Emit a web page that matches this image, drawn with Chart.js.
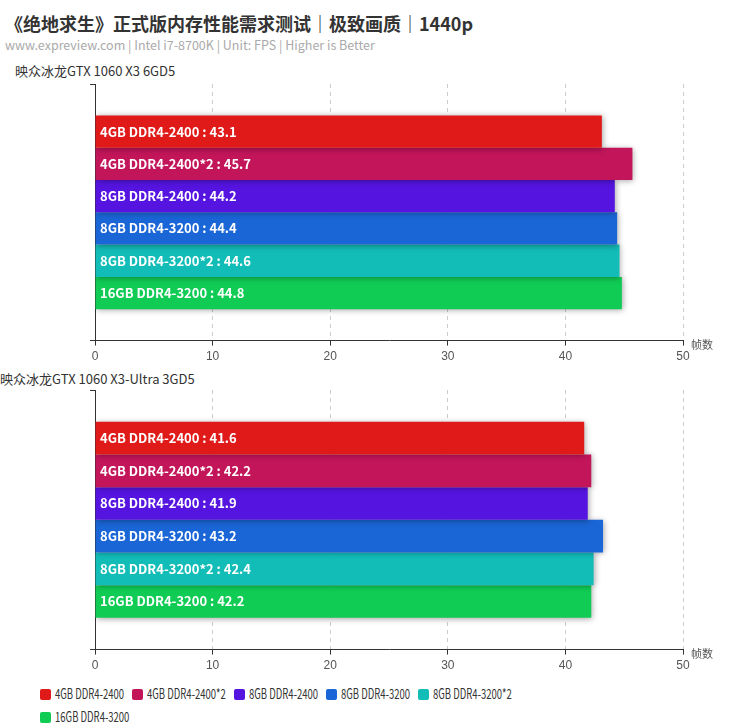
<!DOCTYPE html>
<html>
<head>
<meta charset="utf-8">
<script src="https://cdn.jsdelivr.net/npm/chart.js@4.4.0/dist/chart.umd.min.js"></script>
<style>
  body { margin: 0; width: 743px; height: 727px; background: #fff; font-family: "Noto Sans CJK SC", "Noto Sans", sans-serif; position: relative; overflow: hidden; }
  .title { position: absolute; left: 5px; top: 10px; font-size: 18px; font-weight: bold; color: #333; }
  .sub { position: absolute; left: 5px; top: 35px; font-size: 12.5px; color: #aaa; }
  .card { position: absolute; font-size: 13px; color: #333; }
  .box { position: absolute; left: 0; width: 743px; height: 310px; }
  .legend { position: absolute; left: 40px; top: 683px; width: 520px; font-size: 14px; color: #333; }
  .legend span.item { display: inline-block; margin-right: 8px; height: 22px; line-height: 18px; white-space: nowrap; }
  .legend span.txt { display: inline-block; transform-origin: left center; }
  .legend i { display: inline-block; width: 11px; height: 11px; border-radius: 2px; vertical-align: -1px; margin-right: 4px; }
</style>
</head>
<body>
<div class="title">《绝地求生》正式版内存性能需求测试｜极致画质｜1440p</div>
<div class="sub">www.expreview.com | Intel i7-8700K | Unit: FPS | Higher is Better</div>
<div class="card" style="left:15px; top:61px;">映众冰龙GTX 1060 X3 6GD5</div>
<div class="box" style="top:62px;"><canvas id="chart1"></canvas></div>
<div class="card" style="left:0px; top:369px;">映众冰龙GTX 1060 X3-Ultra 3GD5</div>
<div class="box" style="top:371px;"><canvas id="chart2"></canvas></div>
<div class="legend" id="legend"></div>
<script>
// data
const memConfigs = ["4GB DDR4-2400", "4GB DDR4-2400*2", "8GB DDR4-2400", "8GB DDR4-3200", "8GB DDR4-3200*2", "16GB DDR4-3200"];
const fps6G = [43.1, 45.7, 44.2, 44.4, 44.6, 44.8];
const fps3G = [41.6, 42.2, 41.9, 43.2, 42.4, 42.2];
const xTicks = [0, 10, 20, 30, 40, 50];
const colors = ['#E01919', '#C2155A', '#5514E0', '#1A66D6', '#12BDB8', '#10CC55'];

// legend (text squeezed a bit, the original uses a narrow font)
const legend = document.getElementById("legend");
memConfigs.forEach((name, i) => {
    legend.innerHTML += `<span class="item"><i style="background:${colors[i]}"></i><span class="txt">${name}</span></span>`;
});
const squeeze = 0.68;
legend.querySelectorAll('.txt').forEach(t => {
    const w = t.offsetWidth;
    t.style.transform = `scaleX(${squeeze})`;
    t.style.marginRight = (-(1 - squeeze) * w) + 'px';
});

// bar shadow + labels inside bars
const barDecor = {
    id: 'barDecor',
    beforeDatasetsDraw(chart) {
        const ctx = chart.ctx;
        ctx.save();
        ctx.shadowColor = 'rgba(0,0,0,0.35)';
        ctx.shadowBlur = 6;
        ctx.shadowOffsetX = 1;
        ctx.shadowOffsetY = 1;
    },
    afterDatasetsDraw(chart) {
        const ctx = chart.ctx;
        ctx.restore();
        ctx.save();
        ctx.fillStyle = '#fff';
        ctx.font = '600 13px "Noto Sans CJK SC", "Noto Sans", sans-serif';
        ctx.textBaseline = 'middle';
        chart.data.datasets.forEach((ds, i) => {
            const el = chart.getDatasetMeta(i).data[0];
            ctx.fillText(ds.label + ' : ' + ds.data[0], chart.chartArea.left + 5, el.y);
        });
        ctx.restore();
    },
    afterDraw(chart) {
        const ctx = chart.ctx;
        ctx.save();
        ctx.fillStyle = '#555';
        ctx.font = '11px "Noto Sans CJK SC", sans-serif';
        ctx.textBaseline = 'middle';
        ctx.fillText('帧数', chart.chartArea.right + 8, chart.chartArea.bottom + 4);
        ctx.restore();
    }
};

function makeChart(canvas, values, padTop) {
    return new Chart(canvas, {
        type: 'bar',
        data: {
            labels: [''],
            datasets: memConfigs.map((name, i) => ({
                label: name,
                data: [values[i]],
                backgroundColor: colors[i],
                borderWidth: 0,
                categoryPercentage: 0.755,
                barPercentage: 1
            }))
        },
        options: {
            indexAxis: 'y',
            responsive: false,
            animation: false,
            layout: { padding: { left: 90, right: 60, top: padTop, bottom: 0 } },
            scales: {
                x: {
                    min: xTicks[0],
                    max: xTicks[xTicks.length - 1],
                    afterBuildTicks: (s) => { s.ticks = xTicks.map(v => ({ value: v })); },
                    grid: { color: '#ccc', tickColor: '#333', tickLength: 5, drawOnChartArea: true },
                    border: { color: '#333', dash: [4, 4] },
                    ticks: { color: '#555', font: { size: 12 }, padding: 4 }
                },
                y: {
                    grid: { display: true, drawOnChartArea: false, offset: true, tickLength: 5, tickColor: '#333', color: '#333' },
                    border: { color: '#333' },
                    ticks: { display: false }
                }
            },
            plugins: { legend: { display: false }, tooltip: { enabled: false } }
        },
        plugins: [barDecor]
    });
}

const c1 = document.getElementById("chart1");
const c2 = document.getElementById("chart2");
c1.width = 743; c1.height = 306;
c2.width = 743; c2.height = 306;
makeChart(c1, fps6G, 22);
makeChart(c2, fps3G, 19);
</script>
</body>
</html>
